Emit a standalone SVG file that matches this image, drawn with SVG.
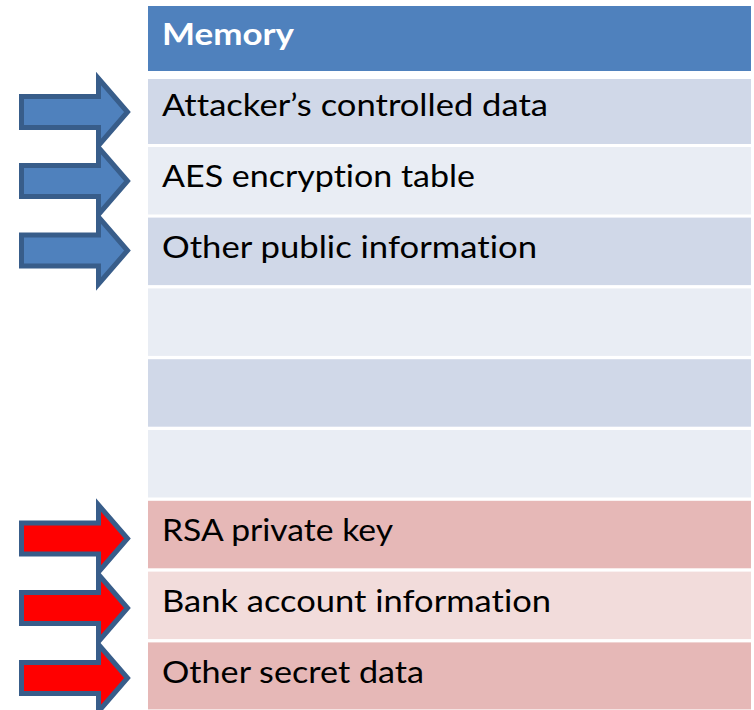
<svg xmlns="http://www.w3.org/2000/svg" width="754" height="710" viewBox="0 0 754 710">
  <defs>
    <style>
      .hdr { fill: #4F81BD; }
      .pubA { fill: #D0D8E8; }
      .pubB { fill: #E9EDF4; }
      .secA { fill: #E6B8B7; }
      .secB { fill: #F2DCDB; }
      .lbl { font-family: "Lato", "Open Sans", "Liberation Sans", sans-serif; font-size: 30px; fill: #000000; font-variant-ligatures: none; }
      .title { font-family: "Lato", "Open Sans", "Liberation Sans", sans-serif; font-size: 30px; font-weight: bold; fill: #FFFFFF; font-variant-ligatures: none; }
      .arrow { stroke: #385D8A; stroke-width: 5; stroke-linejoin: miter; }
      .pub { fill: #4F81BD; }
      .sec { fill: #FF0000; }
    </style>
    <!-- block arrow pointing right, centred on y=0 -->
    <path id="blockArrow" d="M21.5,-15.5 H98.5 V-33.5 L127.5,0 L98.5,33.5 V15.5 H21.5 Z"/>
  </defs>
  <rect width="754" height="710" fill="#FFFFFF"/>

  <!-- memory table -->
  <g id="header">
    <rect class="hdr" x="148" y="6" width="603" height="65"/>
    <text class="title" x="162" y="45" textLength="132" lengthAdjust="spacingAndGlyphs">Memory</text>
  </g>
  <g id="row-attacker-data">
    <rect class="pubA" x="148" y="79" width="603" height="65"/>
    <text class="lbl" x="162" y="116" textLength="386" lengthAdjust="spacingAndGlyphs">Attacker’s controlled data</text>
  </g>
  <g id="row-aes-table">
    <rect class="pubB" x="148" y="147" width="603" height="67.5"/>
    <text class="lbl" x="162" y="187" textLength="313" lengthAdjust="spacingAndGlyphs">AES encryption table</text>
  </g>
  <g id="row-public-info">
    <rect class="pubA" x="148" y="217.6" width="603" height="67.5"/>
    <text class="lbl" x="162" y="258" textLength="375" lengthAdjust="spacingAndGlyphs">Other public information</text>
  </g>
  <g id="row-empty-1">
    <rect class="pubB" x="148" y="288.4" width="603" height="67.5"/>
  </g>
  <g id="row-empty-2">
    <rect class="pubA" x="148" y="359.2" width="603" height="67.5"/>
  </g>
  <g id="row-empty-3">
    <rect class="pubB" x="148" y="430" width="603" height="67.5"/>
  </g>
  <g id="row-rsa-key">
    <rect class="secA" x="148" y="500.8" width="603" height="67.5"/>
    <text class="lbl" x="162" y="541" textLength="231" lengthAdjust="spacingAndGlyphs">RSA private key</text>
  </g>
  <g id="row-bank-info">
    <rect class="secB" x="148" y="571.6" width="603" height="67.5"/>
    <text class="lbl" x="162" y="611.5" textLength="389" lengthAdjust="spacingAndGlyphs">Bank account information</text>
  </g>
  <g id="row-secret-data">
    <rect class="secA" x="148" y="642.4" width="603" height="67"/>
    <text class="lbl" x="162" y="682.5" textLength="262" lengthAdjust="spacingAndGlyphs">Other secret data</text>
  </g>

  <!-- pointer arrows -->
  <g id="connectors">
    <use href="#blockArrow" class="arrow pub" transform="translate(0,112)"/>
    <use href="#blockArrow" class="arrow pub" transform="translate(0,181)"/>
    <use href="#blockArrow" class="arrow pub" transform="translate(0,250.5)"/>
    <use href="#blockArrow" class="arrow sec" transform="translate(0,538.5)"/>
    <use href="#blockArrow" class="arrow sec" transform="translate(0,608)"/>
    <use href="#blockArrow" class="arrow sec" transform="translate(0,678)"/>
  </g>
</svg>
